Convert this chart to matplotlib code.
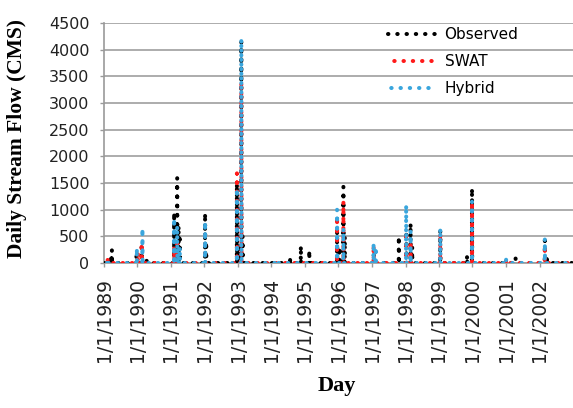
import matplotlib
matplotlib.use("Agg")
import matplotlib.pyplot as plt
import numpy as np
import pandas as pd

# ---- data ----
obs_dates = ["1989-03-20", "1989-03-28", "1989-12-20", "1990-02-15", "1990-04-10",
             "1991-02-05", "1991-02-15", "1991-03-10", "1991-03-25", "1991-04-08",
             "1992-01-08", "1992-01-20", "1992-12-20", "1993-01-10", "1993-02-06",
             "1993-02-20", "1994-07-22", "1994-11-17", "1995-02-17", "1995-12-17",
             "1996-01-10", "1996-02-24", "1996-03-10", "1997-01-20", "1997-10-20",
             "1998-01-10", "1998-02-25", "1998-03-15", "1999-01-15", "1999-11-03",
             "1999-12-27", "2001-04-15", "2002-02-28", "2002-03-20"]
obs_values = [150, 245, 150, 300, 90,
              950, 300, 1590, 700, 450,
              935, 400, 1500, 300, 4150,
              500, 120, 320, 240, 600,
              300, 1430, 500, 150, 500,
              600, 745, 300, 600, 150,
              1400, 90, 420, 150]

swat_dates = ["1989-02-10", "1990-01-05", "1990-02-15", "1991-02-05", "1991-03-10",
              "1992-01-08", "1992-12-20", "1993-02-06", "1995-12-17", "1996-02-24",
              "1997-01-18", "1998-01-08", "1998-02-25", "1999-01-15", "1999-12-27",
              "2001-01-01", "2002-02-28"]
swat_values = [60, 200, 375, 300, 450,
               600, 1680, 3400, 870, 1150,
               340, 500, 400, 560, 1150,
               60, 340]

hyb_dates = ["1989-02-10", "1989-12-25", "1990-02-24", "1991-02-05", "1991-03-10",
             "1991-04-08", "1992-01-08", "1992-12-20", "1993-02-06", "1994-03-15",
             "1995-12-17", "1996-02-24", "1997-01-18", "1997-02-10", "1998-01-08",
             "1998-02-25", "1999-01-15", "1999-12-27", "2001-01-01", "2002-02-28"]
hyb_values = [80, 280, 650, 840, 700,
              300, 775, 1400, 4200, 50,
              1000, 650, 380, 300, 1090,
              600, 650, 1150, 90, 460]

series_names = ["Observed", "SWAT", "Hybrid"]
series_colors = ["#000000", "#ff1a1a", "#3aa6dd"]
year_ticks = list(range(1989, 2003))
y_ticks = list(range(0, 4501, 500))

days = pd.date_range("1989-01-01", "2003-01-01", freq="D")


def daily(dates, values):
    s = pd.Series(0.0, index=days)
    s.loc[pd.to_datetime(dates)] = values
    return s


series = [daily(obs_dates, obs_values), daily(swat_dates, swat_values),
          daily(hyb_dates, hyb_values)]

# ---- figure ----
fig = plt.figure(figsize=(5.73, 4.08), dpi=100)
ax = fig.add_axes([104 / 573, (408 - 263) / 408, 469 / 573, 240 / 408])

for i, (s, name, c) in enumerate(zip(series, series_names, series_colors)):
    ax.plot(s.index, s.values, color=c, lw=2.9, linestyle=(i * 0.75, (0.1, 2.2)),
            dash_capstyle="round", label=name, zorder=3 + i)

ax.set_ylim(0, 4500)
ax.set_xlim(pd.Timestamp("1989-01-01"), pd.Timestamp("2003-01-01"))
ax.set_yticks(y_ticks)
ax.set_xticks([pd.Timestamp(f"{y}-01-01") for y in year_ticks])
ax.set_xticklabels([f"1/1/{y}" for y in year_ticks], rotation=90, fontsize=13.5,
                   family="DejaVu Sans", color="#222222")
ax.set_yticklabels([str(v) for v in y_ticks], fontsize=11.5, family="DejaVu Sans",
                   color="#222222")
ax.tick_params(axis="x", length=3, width=1, color="#999999", pad=7.5)
ax.tick_params(axis="y", length=3, width=1, color="#999999", pad=7.5)
ax.yaxis.grid(True, color="#a6a6a6", lw=1.3)
ax.set_axisbelow(True)
for sp in ["top", "right"]:
    ax.spines[sp].set_visible(False)
for sp in ["left", "bottom"]:
    ax.spines[sp].set_color("#999999")
    ax.spines[sp].set_linewidth(1.2)

leg = ax.legend(loc="upper left", bbox_to_anchor=(388 / 573, 1 - 27 / 408),
                bbox_transform=fig.transFigure, frameon=False,
                handlelength=3.1, handletextpad=0.6, labelspacing=0.8,
                borderpad=0, borderaxespad=0, prop={"family": "DejaVu Sans", "size": 11})

fig.text(17 / 573, 1 - 138 / 408, "Daily Stream Flow (CMS)", rotation=90,
         ha="center", va="center", fontsize=15.5, fontweight="bold",
         family="Liberation Serif")
fig.text(337 / 573, 1 - 386 / 408, "Day", ha="center", va="center",
         fontsize=16, fontweight="bold", family="Liberation Serif")

fig.savefig("out.png", dpi=100)
